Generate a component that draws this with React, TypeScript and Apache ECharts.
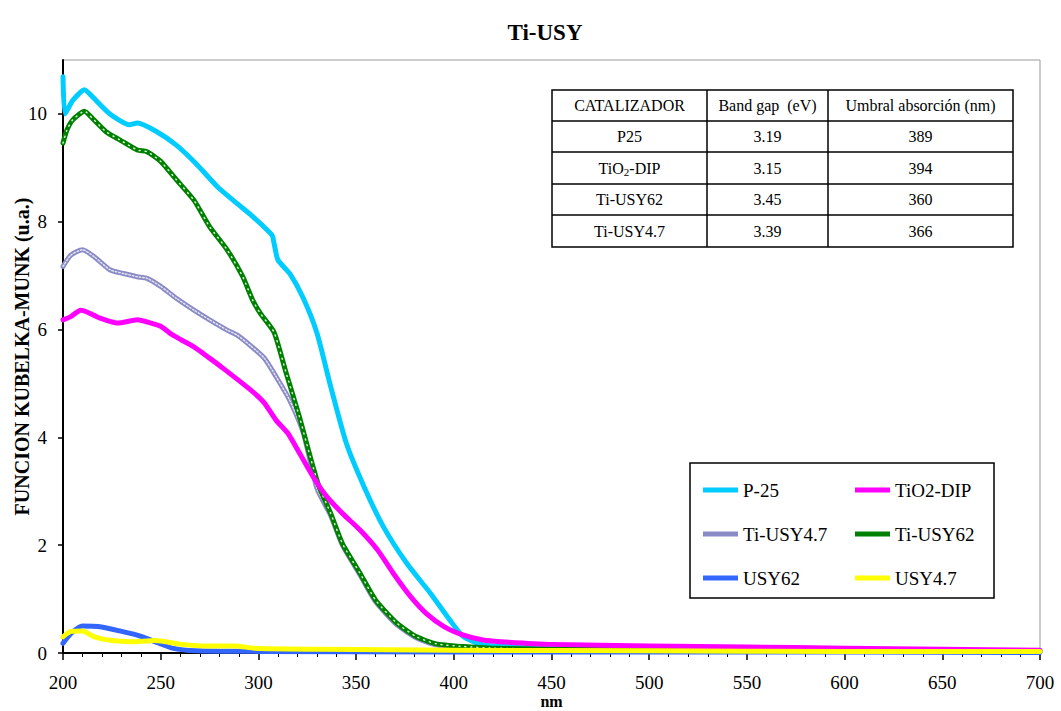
import React, { useEffect, useRef } from "react";
import * as echarts from "echarts";

const FONT = "Liberation Serif, serif";

const xTicks = [200, 250, 300, 350, 400, 450, 500, 550, 600, 650, 700];
const yTicks = [0, 2, 4, 6, 8, 10];

const p25Nm = [200, 201, 205, 211, 215, 224, 234, 238, 248, 258, 268, 279, 289, 297, 307, 308, 310, 316, 323, 330, 337, 345, 354, 364, 376, 388, 398, 405, 415, 430, 450, 500, 550, 600, 650, 700];
const p25Val = [10.69, 10.0, 10.25, 10.45, 10.32, 10.0, 9.8, 9.83, 9.67, 9.42, 9.08, 8.65, 8.34, 8.1, 7.75, 7.6, 7.29, 7.04, 6.58, 5.93, 4.94, 3.89, 3.09, 2.34, 1.66, 1.11, 0.61, 0.3, 0.15, 0.12, 0.1, 0.08, 0.07, 0.06, 0.05, 0.04];

const tio2Nm = [200, 204, 209, 212, 219, 228, 238, 245, 250, 256, 267, 275, 282, 296, 303, 309, 315, 321, 328, 335, 343, 352, 361, 369, 378, 386, 395, 405, 415, 424, 450, 500, 550, 600, 650, 700];
const tio2Val = [6.18, 6.24, 6.36, 6.33, 6.21, 6.12, 6.18, 6.12, 6.06, 5.9, 5.68, 5.47, 5.28, 4.88, 4.64, 4.32, 4.08, 3.71, 3.27, 2.9, 2.59, 2.28, 1.91, 1.48, 1.04, 0.73, 0.49, 0.33, 0.24, 0.21, 0.16, 0.13, 0.11, 0.09, 0.07, 0.05];

const tiUsy47Nm = [200, 204, 210, 216, 224, 231, 238, 243, 250, 258, 267, 275, 284, 289, 296, 303, 309, 316, 323, 330, 337, 343, 352, 360, 371, 381, 391, 405, 420, 450, 500, 600, 700];
const tiUsy47Val = [7.17, 7.38, 7.48, 7.35, 7.11, 7.04, 6.98, 6.95, 6.8, 6.58, 6.36, 6.18, 5.99, 5.9, 5.7, 5.47, 5.13, 4.69, 4.08, 3.05, 2.55, 2.0, 1.45, 0.95, 0.52, 0.28, 0.15, 0.1, 0.08, 0.06, 0.05, 0.04, 0.03];

const tiUsy62Nm = [200, 202, 205, 211, 215, 222, 229, 238, 243, 250, 258, 267, 275, 284, 292, 297, 301, 308, 314, 321, 326, 331, 337, 343, 352, 360, 371, 381, 391, 405, 420, 450, 500, 600, 700];
const tiUsy62Val = [9.46, 9.7, 9.89, 10.05, 9.92, 9.67, 9.52, 9.33, 9.3, 9.12, 8.78, 8.4, 7.91, 7.48, 6.98, 6.55, 6.3, 5.95, 5.22, 4.38, 3.71, 3.09, 2.59, 2.03, 1.48, 0.98, 0.55, 0.3, 0.17, 0.12, 0.09, 0.07, 0.06, 0.05, 0.04];

const usy62Nm = [200, 204, 210, 218, 230, 240, 247, 256, 268, 300, 400, 500, 600, 700];
const usy62Val = [0.18, 0.36, 0.5, 0.49, 0.4, 0.31, 0.21, 0.09, 0.04, 0.03, 0.02, 0.02, 0.02, 0.01];

const usy47Nm = [200, 204, 210, 216, 225, 235, 247, 261, 273, 288, 298, 332, 400, 500, 600, 700];
const usy47Val = [0.3, 0.4, 0.41, 0.3, 0.23, 0.21, 0.23, 0.16, 0.13, 0.13, 0.09, 0.07, 0.05, 0.04, 0.03, 0.03];

const tableHeader = ["CATALIZADOR", "Band gap  (eV)", "Umbral absorción (nm)"];
const tableCatalysts = ["P25", "TiO{sub|2}-DIP", "Ti-USY62", "Ti-USY4.7"];
const tableBandGap = ["3.19", "3.15", "3.45", "3.39"];
const tableUmbral = ["389", "394", "360", "366"];

const zip = (a: number[], b: number[]) => a.map((x, i) => [x, b[i]]);

export default function App() {
  const ref = useRef<HTMLDivElement>(null);
  useEffect(() => {
    document.body.style.margin = "0";
    if (!ref.current) return;
    const chart = echarts.init(ref.current, null, { renderer: "svg" });

    const lineSeries = (name: string, nm: number[], val: number[], color: string, width: number, z: number, dash?: any) => ({
      name,
      type: "line",
      data: zip(nm, val),
      symbol: "none",
      showSymbol: false,
      z,
      smooth: 0.2,
      lineStyle: { color, width, type: dash || "solid", cap: "round", join: "round" },
      itemStyle: { color },
      emphasis: { disabled: true },
    });

    // table graphics
    const tL = 552, tR = 1013, c1 = 707, c2 = 828;
    const rows = [90, 121, 152, 184, 215, 247];
    const tableEls: any[] = [];
    tableEls.push({ type: "rect", shape: { x: tL, y: rows[0], width: tR - tL, height: rows[5] - rows[0] }, style: { fill: "#fff", stroke: "#000", lineWidth: 1.5 }, z: 10 });
    for (let i = 1; i < 5; i++) {
      tableEls.push({ type: "line", shape: { x1: tL, y1: rows[i], x2: tR, y2: rows[i] }, style: { stroke: "#000", lineWidth: 1.5 }, z: 11 });
    }
    [c1, c2].forEach((cx) => tableEls.push({ type: "line", shape: { x1: cx, y1: rows[0], x2: cx, y2: rows[5] }, style: { stroke: "#000", lineWidth: 1.5 }, z: 11 }));
    const colCenters = [(tL + c1) / 2, (c1 + c2) / 2, (c2 + tR) / 2];
    const cell = (text: string, x: number, y: number) => ({
      type: "text",
      x, y, z: 12,
      style: {
        text, x: 0, y: 0, align: "center", verticalAlign: "middle",
        fontFamily: FONT, fontSize: 16, fill: "#000",
        rich: { sub: { fontSize: 11, fontFamily: FONT, verticalAlign: "bottom", padding: [8, 0, 0, 0] } },
      },
    });
    tableHeader.forEach((h, i) => tableEls.push(cell(h, colCenters[i], (rows[0] + rows[1]) / 2)));
    for (let r = 0; r < 4; r++) {
      const cy = (rows[r + 1] + rows[r + 2]) / 2;
      tableEls.push(cell(tableCatalysts[r], colCenters[0], cy));
      tableEls.push(cell(tableBandGap[r], colCenters[1], cy));
      tableEls.push(cell(tableUmbral[r], colCenters[2], cy));
    }

    const legendCommon = {
      orient: "vertical",
      top: 480,
      padding: 0,
      itemWidth: 35,
      itemHeight: 5,
      itemGap: 24,
      icon: "rect",
      textStyle: { fontFamily: FONT, fontSize: 19, lineHeight: 20, color: "#000" },
      selectedMode: false,
    };

    chart.setOption({
      animation: false,
      backgroundColor: "#fff",
      title: {
        text: "Ti-USY",
        left: 540,
        top: 16,
        textAlign: "center",
        textStyle: { fontFamily: FONT, fontSize: 23, fontWeight: "bold", color: "#000" },
      },
      grid: { left: 63, right: 21, top: 60, bottom: 58, show: true, borderColor: "#999", borderWidth: 1, backgroundColor: "transparent", outerBoundsMode: "none", containLabel: false },
      legend: [
        { ...legendCommon, left: 703, data: ["P-25", "Ti-USY4.7", "USY62"] },
        { ...legendCommon, left: 855, data: ["TiO2-DIP", "Ti-USY62", "USY4.7"] },
      ],
      xAxis: {
        type: "value",
        min: 200,
        max: 700,
        interval: 50,
        name: "nm",
        nameLocation: "middle",
        nameGap: 40,
        nameMoveOverlap: false,
        nameTextStyle: { fontFamily: FONT, fontSize: 16, fontWeight: "bold", color: "#000" },
        axisLine: { show: true, onZero: false, lineStyle: { color: "#000", width: 2 } },
        axisTick: { show: true, inside: false, length: 7, lineStyle: { color: "#000", width: 1.5 }, customValues: xTicks },
        minorTick: { show: true, splitNumber: 5, length: 4, lineStyle: { color: "#000", width: 1 } },
        axisLabel: { margin: 20, fontFamily: FONT, fontSize: 19, color: "#000", customValues: xTicks },
        splitLine: { show: false },
        minorSplitLine: { show: false },
      },
      yAxis: {
        type: "value",
        min: 0,
        max: 11,
        interval: 2,
        name: "FUNCION KUBELKA-MUNK (u.a.)",
        nameLocation: "middle",
        nameGap: 31,
        nameMoveOverlap: false,
        nameTextStyle: { fontFamily: FONT, fontSize: 20, fontWeight: "bold", color: "#000" },
        axisLine: { show: true, onZero: false, lineStyle: { color: "#000", width: 2 } },
        axisTick: { show: true, inside: false, length: 5, lineStyle: { color: "#000", width: 1.5 }, customValues: yTicks },
        axisLabel: { margin: 16, fontFamily: FONT, fontSize: 19, color: "#000", customValues: yTicks },
        splitLine: { show: false },
      },
      series: [
        lineSeries("P-25", p25Nm, p25Val, "#00CCFF", 5, 2),
        lineSeries("Ti-USY4.7", tiUsy47Nm, tiUsy47Val, "#8A8AC6", 5, 3),
        lineSeries("_tiusy47pattern", tiUsy47Nm, tiUsy47Val, "rgba(255,255,255,0.75)", 1.5, 4, [1.5, 2]),
        lineSeries("Ti-USY62", tiUsy62Nm, tiUsy62Val, "#008000", 5, 5),
        lineSeries("_tiusy62pattern", tiUsy62Nm, tiUsy62Val, "rgba(230,255,230,0.9)", 1.5, 6, [1, 5]),
        lineSeries("TiO2-DIP", tio2Nm, tio2Val, "#FF00FF", 5, 7),
        lineSeries("USY62", usy62Nm, usy62Val, "#3366FF", 5, 8),
        lineSeries("USY4.7", usy47Nm, usy47Val, "#FFFF00", 5, 9),
      ],
      graphic: [
        { type: "rect", shape: { x: 690, y: 463, width: 304, height: 135 }, style: { fill: "#fff", stroke: "#000", lineWidth: 1.5 }, z: 3 },
        ...tableEls,
      ],
    });
    return () => chart.dispose();
  }, []);
  return <div ref={ref} style={{ width: 1061, height: 711 }} />;
}
